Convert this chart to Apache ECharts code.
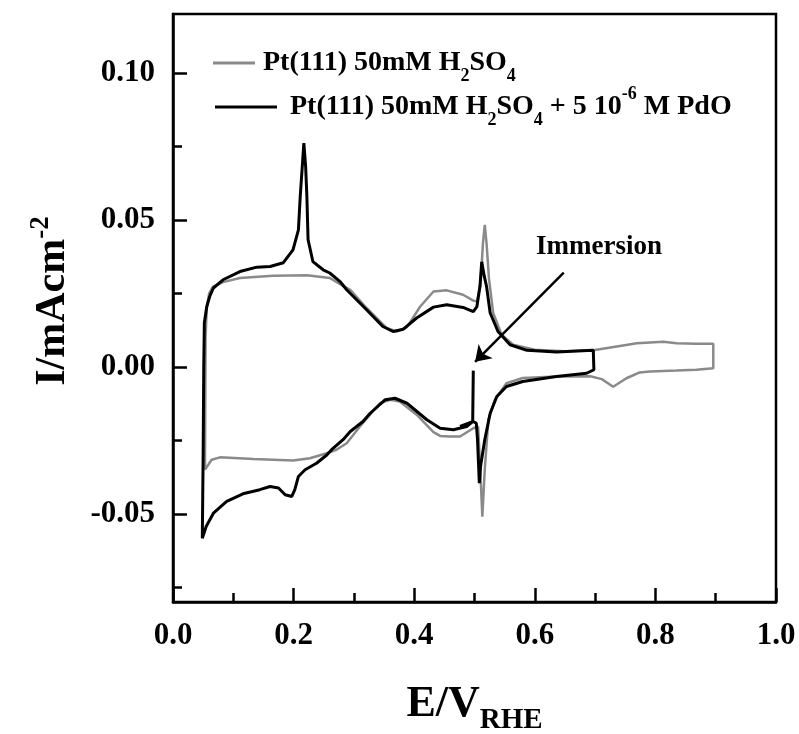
<!DOCTYPE html>
<html>
<head>
<meta charset="utf-8">
<script src="https://cdn.jsdelivr.net/npm/echarts@6/dist/echarts.min.js"></script>
<style>html,body{margin:0;padding:0;background:#fff}#c{width:799px;height:734px}</style>
</head>
<body>
<div id="c"></div>
<script>
// Blank Pt(111) in 50 mM H2SO4  [E / V_RHE, I / mA cm^-2]
const grayCurve = [
[0.053,-0.035],[0.054,0.010],[0.056,0.020],[0.060,0.025],[0.066,0.0272],[0.083,0.0288],[0.111,0.0302],
[0.166,0.031],[0.222,0.0311],[0.26,0.0302],[0.282,0.0275],[0.294,0.0262],[0.321,0.020],[0.354,0.0132],
[0.371,0.012],[0.388,0.0135],[0.41,0.0205],[0.432,0.0256],[0.454,0.026],[0.481,0.0245],[0.498,0.0225],
[0.504,0.0222],[0.510,0.028],[0.514,0.042],[0.517,0.0483],[0.520,0.042],[0.524,0.030],[0.531,0.0183],
[0.545,0.0109],[0.564,0.0075],[0.6,0.0058],[0.65,0.0053],[0.697,0.0056],[0.736,0.0069],[0.769,0.008],
[0.813,0.0085],[0.835,0.008],[0.868,0.0078],[0.896,0.0078],[0.896,-0.0005],[0.868,-0.001],[0.835,-0.0013],
[0.791,-0.0016],[0.774,-0.0019],[0.752,-0.0039],[0.73,-0.0068],[0.711,-0.0042],[0.692,-0.0032],
[0.636,-0.0033],[0.58,-0.0038],[0.553,-0.0056],[0.534,-0.0112],[0.523,-0.018],[0.517,-0.035],
[0.513,-0.051],[0.510,-0.037],[0.506,-0.0203],[0.498,-0.0209],[0.476,-0.0237],[0.459,-0.0237],
[0.443,-0.0235],[0.432,-0.0222],[0.404,-0.0163],[0.376,-0.0118],[0.36,-0.0112],[0.343,-0.0124],
[0.31,-0.0203],[0.288,-0.026],[0.271,-0.0282],[0.255,-0.0294],[0.227,-0.0311],[0.199,-0.0319],
[0.133,-0.0314],[0.078,-0.0308],[0.064,-0.0316],[0.053,-0.035]
];
// Pt(111) in 50 mM H2SO4 + 5e-6 M PdO, starting at immersion (0.5 V)
const blackCurve = [
[0.498,-0.0013],[0.497,-0.0186],[0.487,-0.0203],[0.465,-0.0214],[0.443,-0.0209],[0.421,-0.018],
[0.388,-0.0124],[0.368,-0.0107],[0.352,-0.0112],[0.327,-0.0158],[0.315,-0.0186],[0.294,-0.022],
[0.282,-0.0248],[0.263,-0.0282],[0.255,-0.030],[0.238,-0.0328],[0.219,-0.035],[0.208,-0.0373],
[0.202,-0.0418],[0.197,-0.0441],[0.186,-0.0435],[0.175,-0.0412],[0.161,-0.0407],[0.144,-0.0418],
[0.116,-0.0432],[0.089,-0.0458],[0.067,-0.0498],[0.055,-0.0543],[0.0486,-0.0583],[0.050,-0.03],
[0.051,0.0],[0.052,0.015],[0.056,0.0205],[0.061,0.024],[0.067,0.0268],[0.083,0.0296],[0.111,0.0324],
[0.139,0.0339],[0.161,0.0341],[0.183,0.0354],[0.199,0.0398],[0.208,0.0466],[0.211,0.058],[0.215,0.070],
[0.217,0.0761],[0.220,0.068],[0.222,0.058],[0.224,0.0432],[0.232,0.0358],[0.249,0.033],[0.26,0.0319],
[0.277,0.029],[0.288,0.0262],[0.321,0.0194],[0.348,0.0137],[0.365,0.012],[0.382,0.0128],[0.404,0.0166],
[0.432,0.0203],[0.454,0.0211],[0.481,0.0202],[0.498,0.0188],[0.504,0.0205],[0.509,0.0273],[0.512,0.0357],
[0.516,0.031],[0.52,0.0273],[0.526,0.0183],[0.539,0.012],[0.559,0.0075],[0.587,0.0056],[0.636,0.005],
[0.697,0.0056],[0.698,-0.001],[0.686,-0.0022],[0.636,-0.0033],[0.58,-0.005],[0.553,-0.0067],
[0.537,-0.0101],[0.526,-0.0158],[0.517,-0.0248],[0.51,-0.0339],[0.508,-0.0396],[0.505,-0.0248],
[0.503,-0.0192],[0.498,-0.0186],[0.476,-0.0203]
];
const yMajorTicks = [-0.05, 0.00, 0.05, 0.10];
const yMinorTicks = [-0.075, -0.025, 0.025, 0.075];
const arrowFrom = [0.648, 0.032];
const arrowTo = [0.501, 0.0017];
const annotPos = [0.7065, 0.0406];
const annotText = 'Immersion';
const name1 = 'Pt(111) 50mM H{sub|2}SO{sub|4}';
const name2 = 'Pt(111) 50mM H{sub|2}SO{sub|4} + 5 10{sup|-6} M PdO';

const FONT = '"Liberation Serif","Times New Roman",serif';
const chart = echarts.init(document.getElementById('c'));
const legendRich = {
  sub: {fontFamily: FONT, fontWeight: 'bold', fontSize: 18, verticalAlign: 'bottom', lineHeight: 18, color:'#000'},
  sup: {fontFamily: FONT, fontWeight: 'bold', fontSize: 18, verticalAlign: 'top', lineHeight: 27, color:'#000'}
};
function legendText(padLeft) {
  return {fontFamily: FONT, fontWeight: 'bold', fontSize: 28, color: '#000', lineHeight: 44,
          padding: [0, 0, 0, padLeft], rich: legendRich};
}
chart.setOption({
  animation: false,
  backgroundColor: '#fff',
  grid: {left: 173, right: 23, top: 14, bottom: 132, containLabel: false, outerBoundsMode: 'none',
         show: true, borderColor: '#000', borderWidth: 2.5, backgroundColor: 'transparent'},
  legend: [
    {data: [name1], left: 213, top: 41, padding: 0, itemWidth: 42, itemHeight: 3, itemGap: 0, icon: 'rect',
     textStyle: legendText(3), formatter: n => n, selectedMode: false},
    {data: [name2], left: 215, top: 85, padding: 0, itemWidth: 62, itemHeight: 3, itemGap: 0, icon: 'rect',
     textStyle: legendText(8), formatter: n => n, selectedMode: false}
  ],
  xAxis: {
    type: 'value', min: 0, max: 1, interval: 0.2,
    axisLine: {show: true, onZero: false, lineStyle: {color: '#000', width: 2.5}},
    axisTick: {show: true, inside: true, length: 14, lineStyle: {color: '#000', width: 2.5}},
    minorTick: {show: true, splitNumber: 2, length: 9, lineStyle: {color: '#000', width: 2.5}},
    splitLine: {show: false},
    axisLabel: {margin: 18, fontFamily: FONT, fontWeight: 'bold', fontSize: 31, color: '#000', formatter: v => v.toFixed(1)},
    name: 'E/V{sub|RHE}', nameLocation: 'middle', nameGap: 73,
    nameTextStyle: {fontFamily: FONT, fontWeight: 'bold', fontSize: 44, color: '#000', lineHeight: 60,
      rich: {sub: {fontFamily: FONT, fontWeight: 'bold', fontSize: 29, color: '#000', verticalAlign: 'bottom', lineHeight: 29}}}
  },
  yAxis: [{
    type: 'value', min: -0.08, max: 0.12,
    axisLine: {show: true, onZero: false, lineStyle: {color: '#000', width: 2.5}},
    axisTick: {show: true, inside: true, length: 14, customValues: yMajorTicks, lineStyle: {color: '#000', width: 2.5}},
    splitLine: {show: false},
    axisLabel: {margin: 18, customValues: yMajorTicks, fontFamily: FONT, fontWeight: 'bold', fontSize: 31, color: '#000', formatter: v => v.toFixed(2)},
    name: 'I/mAcm{sup|-2}', nameLocation: 'middle', nameRotate: 90, nameGap: 88,
    nameTextStyle: {fontFamily: FONT, fontWeight: 'bold', fontSize: 42, color: '#000', lineHeight: 52, padding: [0, 0, 0, 14],
      rich: {sup: {fontFamily: FONT, fontWeight: 'bold', fontSize: 27, color: '#000', verticalAlign: 'top', lineHeight: 27}}}
  }, {
    type: 'value', min: -0.08, max: 0.12, position: 'left',
    axisLine: {show: false, onZero: false},
    axisTick: {show: true, inside: true, length: 9, customValues: yMinorTicks, lineStyle: {color: '#000', width: 2.5}},
    axisLabel: {show: false}, splitLine: {show: false}
  }],
  series: [
    {name: name1, type: 'line', data: grayCurve, showSymbol: false, symbol: 'none', smooth: false,
     lineStyle: {color: '#8a8a8a', width: 2.5}, itemStyle: {color: '#8a8a8a'}, z: 2},
    {name: name2, type: 'line', data: blackCurve, showSymbol: false, symbol: 'none', smooth: false,
     lineStyle: {color: '#000', width: 3}, itemStyle: {color: '#000'}, z: 3,
     markLine: {silent: true, symbol: ['none', 'arrow'], symbolSize: 15, label: {show: false},
       lineStyle: {color: '#000', width: 2.5, type: 'solid'},
       data: [[{coord: arrowFrom}, {coord: arrowTo}]]}},
    {name: 'annot', type: 'scatter', data: [annotPos], symbolSize: 0, silent: true, z: 10,
     itemStyle: {color: '#000'},
     label: {show: true, position: 'inside', formatter: annotText, fontFamily: FONT, fontWeight: 'bold', fontSize: 27,
       color: '#000', textBorderWidth: 0, opacity: 1}}
  ]
});
</script>
</body>
</html>
